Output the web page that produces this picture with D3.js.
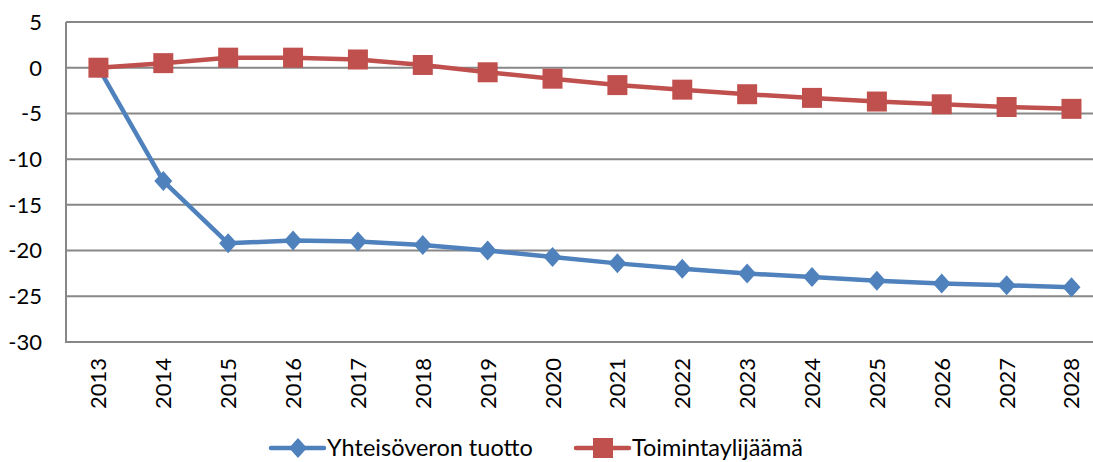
<!DOCTYPE html>
<html>
<head>
<meta charset="utf-8">
<script src="https://cdn.jsdelivr.net/npm/d3@7"></script>
<style>
  body { margin: 0; background: #fff; }
  svg text { font-family: Lato, "Open Sans", sans-serif; fill: #000; }
</style>
</head>
<body>
<svg id="chart" width="1093" height="462"></svg>
<script>
// ─── Data ────────────────────────────────────────────────────────────
const years = ["2013","2014","2015","2016","2017","2018","2019","2020",
               "2021","2022","2023","2024","2025","2026","2027","2028"];
const yhteisovero = [0, -12.4, -19.2, -18.9, -19.0, -19.4, -20.0, -20.7,
                     -21.4, -22.0, -22.5, -22.9, -23.3, -23.6, -23.8, -24.0];
const toimintaylijaama = [0, 0.5, 1.1, 1.1, 0.9, 0.3, -0.5, -1.2,
                          -1.9, -2.4, -2.9, -3.3, -3.7, -4.0, -4.3, -4.5];
const yTicks = [5, 0, -5, -10, -15, -20, -25, -30];
const seriesNames = ["Yhteisöveron tuotto", "Toimintaylijäämä"];

const BLUE = "#4f81bd", RED = "#c0504d", GRID = "#878787";

// ─── Layout ──────────────────────────────────────────────────────────
const svg = d3.select("#chart");
const plotLeft = 66, plotTop = 22, plotBottom = 342;
const band = 64.87;

const x = d3.scaleBand().domain(years).range([plotLeft, plotLeft + band * years.length]);
const y = d3.scaleLinear().domain([-30, 5]).range([plotBottom, plotTop]);

// gridlines
svg.append("g").selectAll("line")
  .data(yTicks)
  .join("line")
  .attr("x1", plotLeft).attr("x2", 1093)
  .attr("y1", d => y(d)).attr("y2", d => y(d))
  .attr("stroke", GRID).attr("stroke-width", 2);

// y axis line
svg.append("line")
  .attr("x1", plotLeft).attr("x2", plotLeft)
  .attr("y1", plotTop).attr("y2", plotBottom + 1)
  .attr("stroke", GRID).attr("stroke-width", 2);

// y tick labels
svg.append("g").selectAll("text")
  .data(yTicks)
  .join("text")
  .attr("x", 42).attr("y", d => y(d))
  .attr("dy", "0.36em")
  .attr("text-anchor", "end")
  .style("font-size", "22px")
  .text(d => d);

// x tick labels (rotated)
svg.append("g").selectAll("text")
  .data(years)
  .join("text")
  .attr("transform", d => `translate(${x(d) + x.bandwidth() / 2 + 8},358) rotate(-90)`)
  .attr("text-anchor", "end")
  .style("font-size", "22px")
  .text(d => d);

// ─── Series ──────────────────────────────────────────────────────────
const cx = (d, i) => x(years[i]) + x.bandwidth() / 2;
const line = d3.line().x(cx).y(d => y(d));

function drawSeries(values, color, shape) {
  svg.append("path")
    .datum(values)
    .attr("fill", "none")
    .attr("stroke", color)
    .attr("stroke-width", 4.5)
    .attr("stroke-linejoin", "round")
    .attr("d", line);

  svg.append("g").selectAll("path")
    .data(values)
    .join("path")
    .attr("transform", (d, i) => `translate(${cx(d, i)},${y(d)})`)
    .attr("d", shape)
    .attr("fill", color);
}

const diamond = "M0,-10L9,0L0,10L-9,0Z";
const square = "M-10,-10H10V10H-10Z";

drawSeries(yhteisovero, BLUE, diamond);
drawSeries(toimintaylijaama, RED, square);

// ─── Legend ──────────────────────────────────────────────────────────
const legend = [
  { name: seriesNames[0], color: BLUE, shape: diamond, x: 271 },
  { name: seriesNames[1], color: RED, shape: square, x: 576 }
];
const ly = 448;
const lg = svg.append("g").selectAll("g").data(legend).join("g")
  .attr("transform", d => `translate(${d.x},${ly})`);
lg.append("line")
  .attr("x1", 0).attr("x2", 53)
  .attr("stroke", d => d.color).attr("stroke-width", 4.5)
  .attr("stroke-linecap", "round");
lg.append("path")
  .attr("transform", "translate(27,0)")
  .attr("d", d => d.shape)
  .attr("fill", d => d.color);
lg.append("text")
  .attr("x", 56).attr("dy", "0.34em")
  .style("font-size", "23.5px")
  .text(d => d.name);
</script>
</body>
</html>
